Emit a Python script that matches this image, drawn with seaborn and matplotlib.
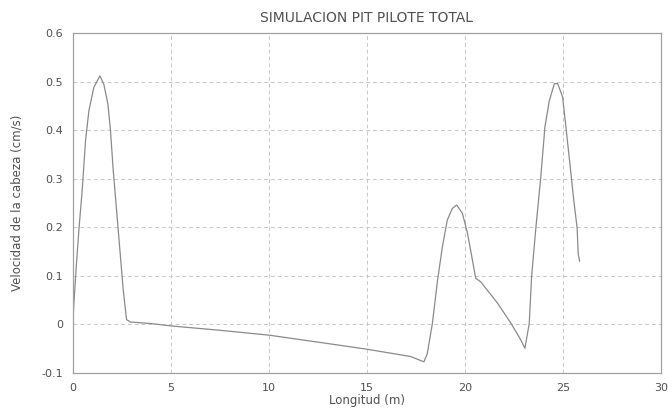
import numpy as np
import pandas as pd
import matplotlib
matplotlib.use("Agg")
import matplotlib.pyplot as plt
import seaborn as sns

# Longitud (m) vs velocidad de la cabeza (cm/s)
longitud = [0.0, 0.05, 0.19, 0.31, 0.48, 0.65, 0.82, 1.07, 1.38, 1.58, 1.79, 1.92,
            2.06, 2.23, 2.40, 2.57, 2.74, 2.94, 3.96, 5.0, 7.5, 10.0, 13.3, 15.0,
            17.23, 17.91, 18.08, 18.34, 18.60, 18.85, 19.10, 19.36, 19.58, 19.87,
            20.13, 20.38, 20.55, 20.80, 21.66, 22.34, 22.85, 23.06, 23.28, 23.40,
            23.62, 23.87, 24.08, 24.30, 24.56, 24.73, 24.98, 25.15, 25.37, 25.55,
            25.72, 25.78, 25.85]
velocidad = [0.0, 0.04, 0.127, 0.195, 0.277, 0.379, 0.44, 0.488, 0.512, 0.495, 0.454, 0.40,
             0.318, 0.236, 0.154, 0.072, 0.01, 0.005, 0.002, -0.003, -0.012, -0.022, -0.041, -0.051,
             -0.066, -0.077, -0.06, 0.002, 0.09, 0.16, 0.215, 0.239, 0.246, 0.229,
             0.188, 0.133, 0.095, 0.088, 0.044, 0.003, -0.032, -0.049, 0.002, 0.098,
             0.20, 0.304, 0.407, 0.46, 0.496, 0.496, 0.469, 0.407, 0.325, 0.256,
             0.20, 0.145, 0.13]

x_ticks = [0, 5, 10, 15, 20, 25, 30]
y_ticks = [-0.1, 0, 0.1, 0.2, 0.3, 0.4, 0.5, 0.6]
y_labels = ["-0.1", "0", "0.1", "0.2", "0.3", "0.4", "0.5", "0.6"]

df = pd.DataFrame({"Longitud": longitud, "Velocidad": velocidad})

sns.set_style("white")
plt.rcParams["font.family"] = ["DejaVu Sans"]
txt = "#505050"

fig = plt.figure(figsize=(6.68, 4.09), dpi=100)
ax = fig.add_axes([0.109, 0.088, 0.8805, 0.831])
sns.lineplot(data=df, x="Longitud", y="Velocidad", sort=False, estimator=None,
             color="#8a8a8a", linewidth=0.9, ax=ax)

ax.set_xlim(0, 30)
ax.set_ylim(-0.1, 0.6)
ax.set_xticks(x_ticks)
ax.set_yticks(y_ticks)
ax.set_yticklabels(y_labels)
ax.grid(True, color="#c8c8c8", linestyle=(0, (4, 3)), linewidth=0.7)
ax.tick_params(axis="both", direction="in", length=3, color="#999999",
               labelsize=8, labelcolor=txt, pad=7)
for s in ax.spines.values():
    s.set_color("#a0a0a0")
    s.set_linewidth(0.9)

ax.set_xlabel("Longitud (m)", fontsize=8.5, color=txt, labelpad=1)
ax.set_ylabel("Velocidad de la cabeza (cm/s)", fontsize=8.5, color=txt, labelpad=13)
ax.set_title("SIMULACION PIT PILOTE TOTAL", fontsize=10, color=txt, pad=8)

plt.savefig("out.png", dpi=100)
